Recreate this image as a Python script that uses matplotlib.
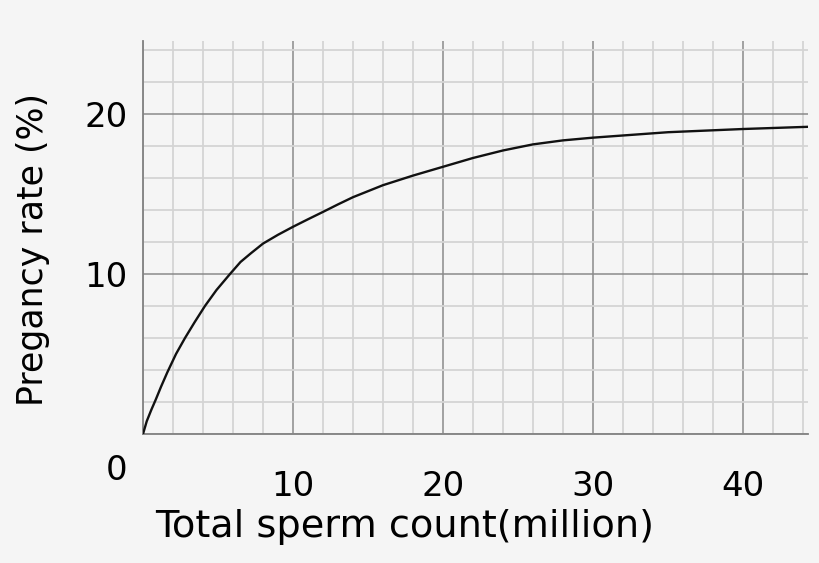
import matplotlib.pyplot as plt
from matplotlib.ticker import MultipleLocator

# values
count_million = [0, 0.25, 0.55, 0.85, 1.2, 1.62, 2.2, 2.8, 3.45, 4.13, 4.9,
                 5.8, 6.5, 7.2, 8.0, 9.0, 10, 11, 12, 13, 14, 16, 18, 20, 22,
                 24, 26, 28, 30, 35, 40, 44.4]
pregnancy_rate = [0, 0.8, 1.5, 2.15, 2.95, 3.85, 5.0, 6.0, 7.0, 8.0, 9.0,
                  10.0, 10.75, 11.3, 11.9, 12.45, 12.95, 13.42, 13.88, 14.35,
                  14.8, 15.55, 16.15, 16.7, 17.25, 17.72, 18.1, 18.35, 18.52,
                  18.86, 19.06, 19.2]
x_ticks = [10, 20, 30, 40]
y_ticks = [10, 20]

bg = '#f5f5f5'
fig = plt.figure(figsize=(8.2, 5.63), dpi=100, facecolor=bg)
ax = fig.add_axes([143 / 820, 129 / 563, 665 / 820, 393 / 563], facecolor=bg)

ax.set_xlim(0, 44.33)
ax.set_ylim(0, 24.56)

ax.xaxis.set_major_locator(MultipleLocator(10))
ax.yaxis.set_major_locator(MultipleLocator(10))
ax.xaxis.set_minor_locator(MultipleLocator(2))
ax.yaxis.set_minor_locator(MultipleLocator(2))
ax.grid(which='minor', color='#d4d4d4', linewidth=1.3, zorder=0)
ax.grid(which='major', color='#8a8a8a', linewidth=1.1, zorder=1)

for side in ['top', 'right']:
    ax.spines[side].set_visible(False)
for side in ['left', 'bottom']:
    ax.spines[side].set_color('#808080')
    ax.spines[side].set_linewidth(1.3)

ax.tick_params(which='both', length=0)
ax.set_xticks(x_ticks)
ax.set_xticklabels([str(t) for t in x_ticks])
ax.set_yticks(y_ticks)
ax.set_yticklabels([str(t) for t in y_ticks])
ax.tick_params(axis='x', labelsize=24.5, pad=26)
ax.tick_params(axis='y', labelsize=24.5, pad=11)

ax.text(-1.07, -2.25, '0', fontsize=24.5, ha='right', va='center', clip_on=False)

ax.plot(count_million, pregnancy_rate, color='#111111', linewidth=1.7,
        solid_joinstyle='round', zorder=3)

ax.set_xlabel('Total sperm count(million)', fontsize=27.5)
ax.xaxis.set_label_coords(0.394, -0.19)
ax.set_ylabel('Pregancy rate (%)', fontsize=25)
ax.yaxis.set_label_coords(-0.14, 0.47)

plt.savefig('out.png', dpi=100, facecolor=bg)
